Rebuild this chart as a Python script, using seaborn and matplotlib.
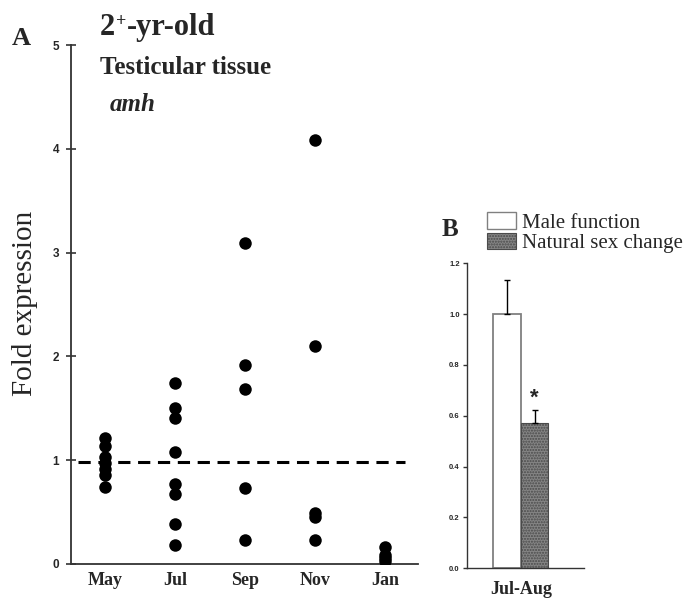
import matplotlib
matplotlib.use("Agg")
import matplotlib.pyplot as plt
import matplotlib.patches as mpatches
import pandas as pd
import seaborn as sns

# panel A: amh fold expression per month (2+-yr-old testicular tissue)
months = ["May", "Jul", "Sep", "Nov", "Jan"]
may = [1.21, 1.14, 1.03, 0.97, 0.92, 0.86, 0.74]
jul = [1.74, 1.50, 1.41, 1.08, 0.77, 0.67, 0.39, 0.18]
sep = [3.09, 1.92, 1.69, 0.73, 0.23]
nov = [4.08, 2.10, 0.49, 0.45, 0.23]
jan = [0.16, 0.09, 0.06, 0.03]
baseline = 0.98

# panel B: Jul-Aug mean +/- error
groups = ["Male function", "Natural sex change"]
means = [1.00, 0.57]
errors = [0.135, 0.053]
period = "Jul-Aug"

serif = "Liberation Serif"
sans = "Liberation Sans"

sns.set_style("ticks")
plt.rcParams["font.family"] = [sans, "DejaVu Sans"]

rows = []
for m, vals in zip(months, [may, jul, sep, nov, jan]):
    for v in vals:
        rows.append({"month": m, "fold": v})
df_a = pd.DataFrame(rows)

df_b = pd.DataFrame({"period": [period] * 2, "group": groups, "value": means})

W, H = 683, 599
fig = plt.figure(figsize=(W / 100, H / 100), dpi=100)

# ---------- panel A ----------
ax = fig.add_axes([71 / W, 1 - 564 / H, 347 / W, (564 - 45) / H])
sns.stripplot(data=df_a, x="month", y="fold", order=months, jitter=False,
              color="black", size=9, linewidth=0, ax=ax)
ax.plot([-0.386, 4.286], [baseline, baseline], color="black", lw=2.2,
        ls=(0, (4, 2.5)))
ax.set_xlim(-0.486, 4.47)
ax.set_ylim(0, 5)
ax.set_yticks(range(6))
ax.set_xlabel("")
ax.set_ylabel("")
for s in ["top", "right"]:
    ax.spines[s].set_visible(False)
for s in ["left", "bottom"]:
    ax.spines[s].set_color("#333333")
    ax.spines[s].set_linewidth(1.3)
ax.tick_params(axis="y", direction="inout", length=7, width=1.2, color="#333333",
               labelsize=8.5, pad=5)
ax.tick_params(axis="x", length=0, pad=6)
for t in ax.get_yticklabels():
    t.set_fontweight("bold")
    t.set_family(sans)
for t in ax.get_xticklabels():
    t.set_fontweight("bold")
    t.set_family(serif)
    t.set_fontsize(13)

fig.text(25 / W, 1 - 303 / H, "Fold expression", rotation=90, ha="center",
         va="center", family=serif, fontsize=21)

# ---------- panel B ----------
axb = fig.add_axes([466.7 / W, 1 - 568.3 / H, 117.3 / W, 305 / H])
sns.barplot(data=df_b, x="period", y="value", hue="group", hue_order=groups,
            errorbar=None, width=0.8, legend=False, ax=axb)
bars = axb.patches[:2]
bars[0].set_facecolor("white")
bars[0].set_edgecolor("#808080")
bars[0].set_linewidth(1.3)
bars[1].set_facecolor("#858585")
bars[1].set_edgecolor("#4a4a4a")
bars[1].set_hatch("......")
bars[1].set_linewidth(0.8)
for b, m, e in zip(bars, means, errors):
    cx = b.get_x() + b.get_width() / 2
    axb.errorbar(cx, m, yerr=[[0], [e]], color="black", lw=1.0, capsize=2.5,
                 capthick=1.0)
b2 = bars[1]
axb.text(b2.get_x() + b2.get_width() / 2, means[1] + errors[1] + 0.005, "*",
         ha="center", va="bottom", family=sans, fontsize=16, fontweight="bold")
axb.set_xlim(-0.79, 0.917)
axb.set_ylim(0, 1.2)
axb.set_yticks([0, 0.2, 0.4, 0.6, 0.8, 1.0, 1.2])
axb.set_yticklabels(["0.0", "0.2", "0.4", "0.6", "0.8", "1.0", "1.2"])
axb.set_xlabel("")
axb.set_ylabel("")
for s in ["top", "right"]:
    axb.spines[s].set_visible(False)
for s in ["left", "bottom"]:
    axb.spines[s].set_color("#333333")
    axb.spines[s].set_linewidth(1.0)
axb.tick_params(axis="y", direction="out", length=3, width=1.0, color="#333333",
                labelsize=5.5, pad=2)
axb.tick_params(axis="x", length=0, pad=9)
for t in axb.get_yticklabels():
    t.set_fontweight("bold")
for t in axb.get_xticklabels():
    t.set_fontweight("bold")
    t.set_family(serif)
    t.set_fontsize(13)

handles = [mpatches.Patch(facecolor="white", edgecolor="#808080", lw=1.0),
           mpatches.Patch(facecolor="#858585", edgecolor="#4a4a4a", hatch="......", lw=0.8)]
fig.legend(handles, groups, loc="upper left", bbox_to_anchor=(487 / W, 1 - 212 / H),
           frameon=False, borderpad=0, borderaxespad=0, handlelength=1.4,
           handleheight=0.85, handletextpad=0.3, labelspacing=0.0,
           prop={"family": serif, "size": 15})

# ---------- panel labels and titles ----------
def txt(x, y, s, **kw):
    return fig.text(x / W, 1 - y / H, s, va="baseline", family=serif, **kw)

txt(12, 45, "A", fontsize=19, fontweight="bold")
txt(442, 236, "B", fontsize=18, fontweight="bold")
t2 = txt(100, 35, "2", fontsize=22, fontweight="bold")
fig.canvas.draw()
r = fig.canvas.get_renderer()
x_after = 100 + t2.get_window_extent(r).width
tp = txt(x_after + 1, 26, "+", fontsize=13, fontweight="bold")
fig.canvas.draw()
x_after2 = x_after + 1 + tp.get_window_extent(r).width
txt(x_after2, 35, "-yr-old", fontsize=22, fontweight="bold")
txt(100, 74, "Testicular tissue", fontsize=18, fontweight="bold")
txt(110, 111, "amh", fontsize=18, fontweight="bold", style="italic")

fig.savefig("out.png", dpi=100)
